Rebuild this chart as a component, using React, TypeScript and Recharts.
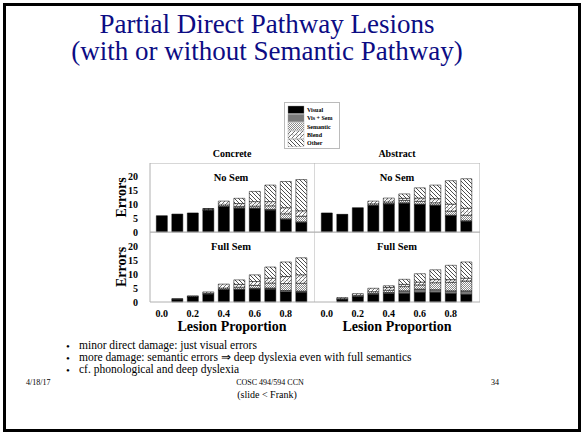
import React from "react";
import { Bar, BarChart, XAxis, YAxis } from "recharts";

const lesion = ["0.0", "0.1", "0.2", "0.3", "0.4", "0.5", "0.6", "0.7", "0.8", "0.9"];
const yTicks = [0, 5, 10, 15, 20];
const majorTicks = [0, 5, 10, 15, 20, 25];
const minorTicks = [0, 1, 2, 3, 4, 5, 6, 7, 8, 9, 10, 11, 12, 13, 14, 15, 16, 17, 18, 19, 20, 21, 22, 23, 24, 25];

// Concrete, no semantic pathway
const concreteNoSemVisual = [5.9, 6.5, 6.9, 7.8, 9.1, 8.5, 8.4, 7.9, 4.5, 3.4];
const concreteNoSemVisSem = [0, 0, 0, 0.1, 0.2, 0.3, 0.3, 0.3, 0.3, 0.3];
const concreteNoSemSemantic = [0, 0, 0, 0.2, 0.5, 0.5, 0.7, 1.3, 1.8, 2.0];
const concreteNoSemBlend = [0, 0, 0, 0.3, 1.4, 1.0, 1.6, 1.5, 2.2, 2.0];
const concreteNoSemOther = [0, 0, 0, 0.1, 0, 1.9, 3.7, 6.0, 9.5, 11.3];

// Abstract, no semantic pathway
const abstractNoSemVisual = [6.9, 6.3, 8.8, 9.7, 10.1, 10.3, 9.9, 9.5, 5.8, 3.8];
const abstractNoSemVisSem = [0, 0.1, 0, 0, 0.2, 0.3, 0.2, 0.3, 0.3, 0.3];
const abstractNoSemSemantic = [0, 0, 0, 0.5, 0.6, 0.8, 1.0, 0.8, 1.5, 2.0];
const abstractNoSemBlend = [0, 0, 0, 1.0, 1.4, 0.8, 1.2, 1.5, 2.5, 2.5];
const abstractNoSemOther = [0, 0, 0, 0, 0, 1.6, 3.7, 4.9, 8.5, 10.7];

// Concrete, full semantics
const concreteFullVisual = [0, 1.0, 1.8, 2.7, 4.3, 4.3, 4.6, 4.5, 3.6, 3.4];
const concreteFullVisSem = [0, 0.2, 0.2, 0.2, 0.2, 0.3, 0.3, 0.5, 0.5, 0.5];
const concreteFullSemantic = [0, 0, 0.2, 0.2, 0.5, 0.7, 1.0, 1.8, 2.5, 2.8];
const concreteFullBlend = [0, 0, 0, 0.5, 1.4, 1.0, 1.4, 1.7, 2.5, 3.0];
const concreteFullOther = [0, 0, 0, 0, 0, 1.6, 2.4, 4.0, 5.2, 6.1];

// Abstract, full semantics
const abstractFullVisual = [0, 0.9, 1.8, 2.7, 3.0, 3.0, 3.4, 3.4, 3.0, 2.7];
const abstractFullVisSem = [0, 0.1, 0.3, 0.4, 0.4, 1.0, 1.2, 1.0, 1.0, 1.3];
const abstractFullSemantic = [0, 0.2, 0.3, 0.6, 0.8, 1.5, 1.5, 2.5, 3.0, 3.5];
const abstractFullBlend = [0, 0.4, 0.6, 1.2, 1.0, 0.8, 1.0, 1.2, 1.0, 1.0];
const abstractFullOther = [0, 0, 0, 0, 0.6, 1.8, 3.0, 3.4, 5.1, 5.8];

const series = [
  { key: "visual", name: "Visual", fill: "#000" },
  { key: "visSem", name: "Vis + Sem", fill: "#7a7a7a" },
  { key: "semantic", name: "Semantic", fill: "url(#pSem)" },
  { key: "blend", name: "Blend", fill: "url(#pBlend)" },
  { key: "other", name: "Other", fill: "url(#pOther)" },
];

const bullets = [
  "minor direct damage: just visual errors",
  "more damage: semantic errors ⇒ deep dyslexia even with full semantics",
  "cf. phonological and deep dyslexia",
];

const serif = "'Liberation Serif', 'Times New Roman', serif";
const frame = "#b0b0b0";
const tickFont = { fill: "#000", fontSize: 10, fontWeight: "bold", fontFamily: serif };

function rows(v: number[], vs: number[], s: number[], b: number[], o: number[]) {
  return lesion.map((p, i) => ({ p, visual: v[i], visSem: vs[i], semantic: s[i], blend: b[i], other: o[i] }));
}

const tlRows = rows(concreteNoSemVisual, concreteNoSemVisSem, concreteNoSemSemantic, concreteNoSemBlend, concreteNoSemOther);
const trRows = rows(abstractNoSemVisual, abstractNoSemVisSem, abstractNoSemSemantic, abstractNoSemBlend, abstractNoSemOther);
const blRows = rows(concreteFullVisual, concreteFullVisSem, concreteFullSemantic, concreteFullBlend, concreteFullOther);
const brRows = rows(abstractFullVisual, abstractFullVisSem, abstractFullSemantic, abstractFullBlend, abstractFullOther);

function Patterns() {
  return (
    <svg width={0} height={0} style={{ position: "absolute" }}>
      <defs>
        <pattern id="pSem" width={2} height={2} patternUnits="userSpaceOnUse">
          <rect width={2} height={2} fill="#fff" />
          <rect width={1} height={1} fill="#8a8a8a" />
          <rect x={1} y={1} width={1} height={1} fill="#8a8a8a" />
        </pattern>
        <pattern id="pBlend" width={4} height={4} patternUnits="userSpaceOnUse">
          <rect width={4} height={4} fill="#fff" />
          <path d="M0,4 L4,0" stroke="#333" strokeWidth={0.7} />
          <rect x={0.5} y={0.5} width={0.8} height={0.8} fill="#555" />
        </pattern>
        <pattern id="pOther" width={4} height={4} patternUnits="userSpaceOnUse">
          <rect width={4} height={4} fill="#fff" />
          <path d="M0,0 L4,4 M-1,3 L1,5 M3,-1 L5,1" stroke="#222" strokeWidth={0.8} />
        </pattern>
      </defs>
    </svg>
  );
}

type PanelProps = { data: any[]; left: number; top: number; plotH: number; showY: boolean; showX: boolean };

function Panel({ data, left, top, plotH, showY, showX }: PanelProps) {
  const yW = showY ? 35 : 0;
  const xH = showX ? 18 : 7;
  return (
    <div style={{ position: "absolute", left: left - yW, top: top - 1 }}>
      <BarChart width={yW + 165} height={1 + plotH + xH} data={data} margin={{ top: 0, right: 0, bottom: 0, left: 0 }} barCategoryGap="15%">
        <XAxis
          xAxisId="top"
          orientation="top"
          dataKey="p"
          height={1}
          mirror
          padding={{ left: 4, right: 6 }}
          tick={false}
          tickSize={3}
          tickLine={{ stroke: frame }}
          axisLine={{ stroke: frame }}
        />
        <XAxis
          dataKey="p"
          height={xH}
          interval={showX ? 1 : 0}
          padding={{ left: 4, right: 6 }}
          tickLine={false}
          axisLine={{ stroke: frame }}
          tickMargin={2}
          tick={showX ? tickFont : false}
        />
        <YAxis
          domain={[0, 25]}
          ticks={yTicks}
          interval={0}
          width={yW}
          tickLine={false}
          axisLine={{ stroke: frame }}
          tickMargin={6}
          tick={showY ? tickFont : false}
          label={
            showY
              ? { value: "Errors", angle: -90, position: "insideLeft", offset: 6, style: { textAnchor: "middle", fontSize: 14, fontWeight: "bold", fontFamily: serif, fill: "#000" } }
              : undefined
          }
        />
        <YAxis yAxisId="majL" mirror width={0} domain={[0, 25]} ticks={majorTicks} interval={0} tick={false} tickSize={4} tickLine={{ stroke: frame }} axisLine={false} />
        <YAxis yAxisId="minL" mirror width={0} domain={[0, 25]} ticks={minorTicks} interval={0} tick={false} tickSize={2} tickLine={{ stroke: frame }} axisLine={false} />
        <YAxis yAxisId="right" orientation="right" mirror width={1} domain={[0, 25]} ticks={minorTicks} interval={0} tick={false} tickSize={2} tickLine={{ stroke: frame }} axisLine={{ stroke: frame }} />
        <YAxis yAxisId="majR" orientation="right" mirror width={0} domain={[0, 25]} ticks={majorTicks} interval={0} tick={false} tickSize={4} tickLine={{ stroke: frame }} axisLine={false} />
        {series.map((s) => (
          <Bar key={s.key} dataKey={s.key} name={s.name} stackId="a" fill={s.fill} stroke="#000" strokeWidth={0.5} isAnimationActive={false} />
        ))}
      </BarChart>
    </div>
  );
}

function Txt({ x, y, size, bold, children, color, anchor }: any) {
  const tx = anchor === "start" ? "0" : "-50%";
  return (
    <div
      style={{
        position: "absolute",
        left: x,
        top: y,
        transform: `translate(${tx}, -50%)`,
        whiteSpace: "nowrap",
        fontFamily: serif,
        fontSize: size,
        fontWeight: bold ? "bold" : "normal",
        color: color || "#000",
        lineHeight: 1,
      }}
    >
      {children}
    </div>
  );
}

function SeriesLegend() {
  return (
    <svg width={56} height={47} style={{ position: "absolute", left: 284, top: 102 }}>
      <rect x={0.5} y={0.5} width={55} height={46} fill="#fff" stroke="#bbb" />
      {series.map((s, i) => (
        <g key={s.key}>
          <rect x={4} y={4 + i * 8.3} width={16} height={7.5} fill={s.fill} stroke="#999" strokeWidth={0.4} />
          <text x={23} y={10 + i * 8.3} fontSize={6} fontWeight="bold" fontFamily={serif}>
            {s.name}
          </text>
        </g>
      ))}
    </svg>
  );
}

export default function App() {
  return (
    <div style={{ position: "absolute", left: 0, top: 0, width: 584, height: 435, background: "#fff", overflow: "hidden" }}>
      <div style={{ position: "absolute", left: 3, top: 3, width: 578, height: 429, boxSizing: "border-box", border: "3px solid #000" }} />
      <Patterns />
      <Txt x={267} y={24} size={27} color="#0c0c84">Partial Direct Pathway Lesions</Txt>
      <Txt x={267} y={51} size={27} color="#0c0c84">(with or without Semantic Pathway)</Txt>
      <SeriesLegend />
      <Txt x={232} y={154} size={10} bold>Concrete</Txt>
      <Txt x={397} y={154} size={10} bold>Abstract</Txt>
      <Panel data={tlRows} left={150} top={164} plotH={68} showY showX={false} />
      <Panel data={trRows} left={315} top={164} plotH={68} showY={false} showX={false} />
      <Panel data={blRows} left={150} top={233} plotH={69} showY showX />
      <Panel data={brRows} left={315} top={233} plotH={69} showY={false} showX />
      <Txt x={231} y={178} size={10.5} bold>No Sem</Txt>
      <Txt x={397} y={178} size={10.5} bold>No Sem</Txt>
      <Txt x={231} y={247} size={10.5} bold>Full Sem</Txt>
      <Txt x={397} y={247} size={10.5} bold>Full Sem</Txt>
      <Txt x={232} y={327} size={14} bold>Lesion Proportion</Txt>
      <Txt x={397} y={327} size={14} bold>Lesion Proportion</Txt>
      {bullets.map((b, i) => (
        <React.Fragment key={b}>
          <Txt x={68} y={346 + i * 12} size={11}>•</Txt>
          <Txt x={79} y={346 + i * 12} size={11.5} anchor="start">{b}</Txt>
        </React.Fragment>
      ))}
      <Txt x={26} y={383} size={8} anchor="start">4/18/17</Txt>
      <Txt x={270} y={383} size={8}>COSC 494/594 CCN</Txt>
      <Txt x={491} y={383} size={8} anchor="start">34</Txt>
      <Txt x={267} y={395} size={10}>(slide &lt; Frank)</Txt>
    </div>
  );
}
